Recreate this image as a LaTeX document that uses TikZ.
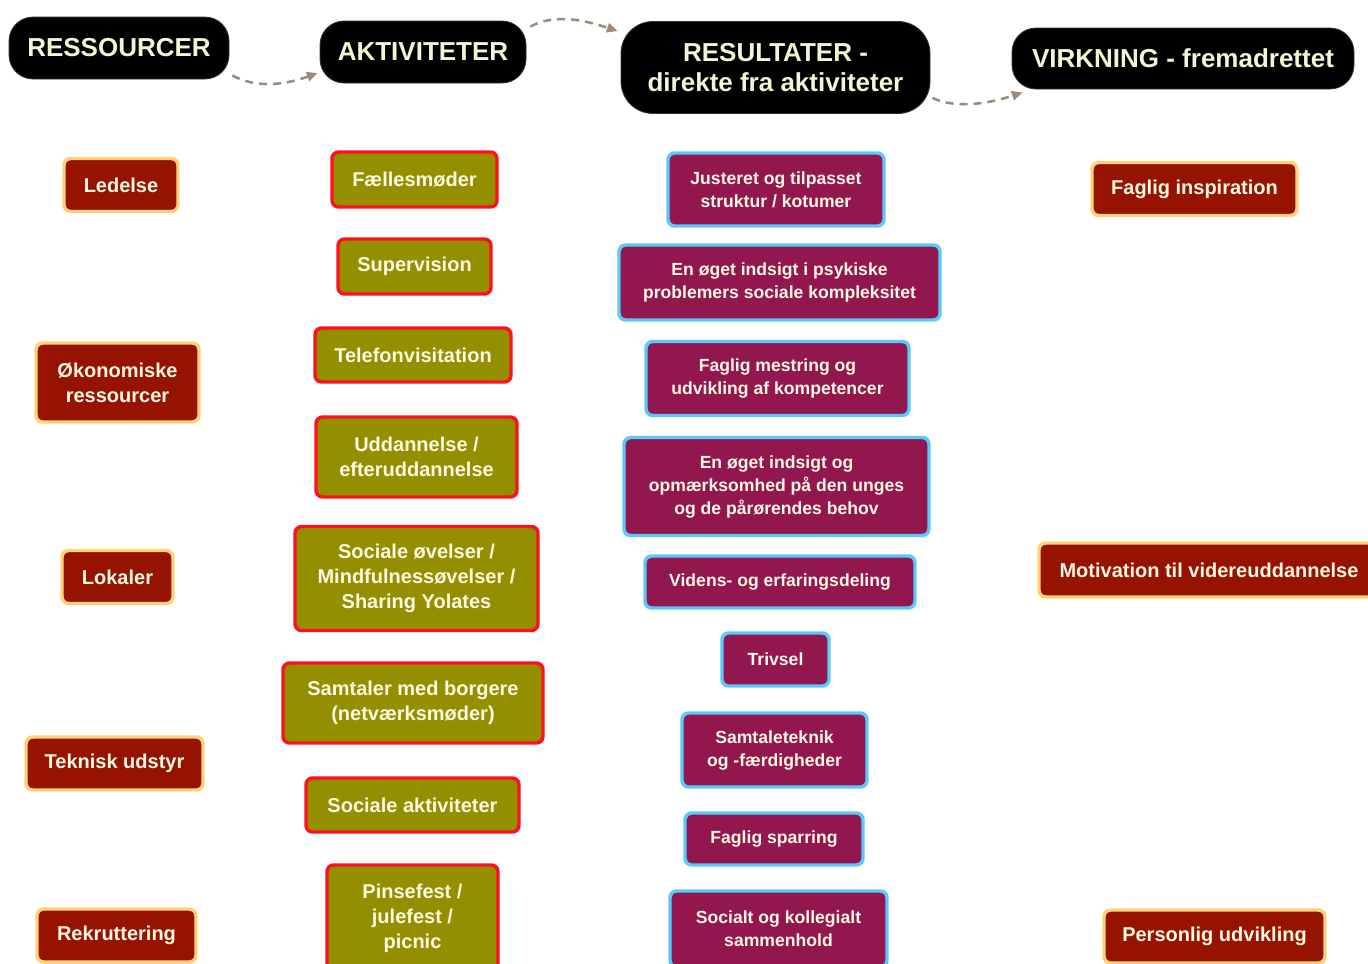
\documentclass[tikz,border=0pt]{standalone}
\usepackage{fontspec}
\setmainfont{Liberation Sans}
\usetikzlibrary{arrows.meta}
\definecolor{hdrtext}{HTML}{F2F7D2}
\definecolor{boxtext}{HTML}{FFF8E2}
\definecolor{resfill}{HTML}{951300}
\definecolor{resline}{HTML}{FFD27A}
\definecolor{actfill}{HTML}{948F00}
\definecolor{actline}{HTML}{FF1020}
\definecolor{outfill}{HTML}{93174F}
\definecolor{outline}{HTML}{5AC8FA}
\definecolor{flowcol}{HTML}{9C8B78}
\tikzset{
  dim/.style 2 args={minimum width=#1*0.75pt, minimum height=#2*0.75pt},
  hdr/.style={fill=black, draw=black!80, line width=0.6pt, rounded corners=18pt,
    text=hdrtext, inner sep=0pt, align=center,
    font=\fontsize{19.5}{22.5}\selectfont\bfseries},
  basebox/.style={rounded corners=5pt, line width=2.6pt, inner sep=0pt, align=center,
    text=boxtext},
  resbox/.style={basebox, fill=resfill, draw=resline,
    font=\fontsize{15}{18.75}\selectfont\bfseries},
  actbox/.style={basebox, fill=actfill, draw=actline,
    font=\fontsize{15}{18.75}\selectfont\bfseries},
  outbox/.style={basebox, fill=outfill, draw=outline,
    font=\fontsize{13.2}{17.25}\selectfont\bfseries},
  flow/.style={draw=flowcol, line width=1.9pt, dash pattern=on 6pt off 4.5pt,
    -{Triangle[length=8pt,width=7pt,fill=flowcol]}},
}
\begin{document}
\begin{tikzpicture}[x=0.75pt,y=-0.75pt]
\useasboundingbox (0,0) rectangle (1368,964);
% headers
\node[hdr, dim={220}{62}] (h1) at (119,48) {RESSOURCER};
\node[hdr, dim={206}{62}] (h2) at (423,52) {AKTIVITETER};
\node[hdr, dim={309}{92}, rounded corners=24pt] (h3) at (775.5,67.5) {RESULTATER -\\direkte fra aktiviteter};
\node[hdr, dim={342}{61}] (h4) at (1183,58.5) {VIRKNING - fremadrettet};
% flows
\draw[flow] ([shift={(3,-4)}]h1.south east) .. controls +(25,14) and +(-30,11) .. ([shift={(-2,21)}]h2.west);
\draw[flow] ([shift={(4,6)}]h2.north east) .. controls +(25,-14) and +(-30,-10) .. ([shift={(-3,10)}]h3.north west);
\draw[flow] ([shift={(2,-16)}]h3.south east) .. controls +(25,12) and +(-30,10) .. ([shift={(11,3)}]h4.south west);
% resources
\node[resbox, dim={114}{53}] (r1) at (121,185) {Ledelse};
\node[resbox, dim={163}{79}] (r2) at (117.5,382.5) {Økonomiske\\ressourcer};
\node[resbox, dim={111}{53}] (r3) at (117.5,577) {Lokaler};
\node[resbox, dim={177}{53}] (r4) at (114.5,763.5) {Teknisk udstyr};
\node[resbox, dim={159}{53}] (r5) at (116.5,935.5) {Rekruttering};
% impact
\node[resbox, dim={205}{53}] (v1) at (1194.5,189) {Faglig inspiration};
\node[resbox, dim={340}{54}] (v2) at (1209,570) {Motivation til videreuddannelse};
\node[resbox, dim={221}{53}] (v3) at (1214.5,936.5) {Personlig udvikling};
% activities
\node[actbox, dim={165}{55}] (a1) at (414.5,179.5) {Fællesmøder};
\node[actbox, dim={153}{55}] (a2) at (414.5,266.5) {Supervision};
\node[actbox, dim={196}{54}] (a3) at (413,355) {Telefonvisitation};
\node[actbox, dim={201}{80}] (a4) at (416.5,457) {Uddannelse /\\efteruddannelse};
\node[actbox, dim={243}{104}] (a5) at (416.5,578.5) {Sociale øvelser /\\Mindfulnessøvelser /\\Sharing Yolates};
\node[actbox, dim={260}{80}] (a6) at (413,703) {Samtaler med borgere\\(netværksmøder)};
\node[actbox, dim={213}{54}] (a7) at (412.5,805) {Sociale aktiviteter};
\node[actbox, dim={171}{106}] (a8) at (412.5,918) {Pinsefest /\\julefest /\\picnic};
% outputs
\node[outbox, dim={216}{73}] (p1) at (776,189.5) {Justeret og tilpasset\\struktur / kotumer};
\node[outbox, dim={321}{75}] (p2) at (779.5,282.5) {En øget indsigt i psykiske\\problemers sociale kompleksitet};
\node[outbox, dim={263}{74}] (p3) at (777.5,378.5) {Faglig mestring og\\udvikling af kompetencer};
\node[outbox, dim={305}{98}] (p4) at (776.5,486.5) {En øget indsigt og\\opmærksomhed på den unges\\og de pårørendes behov};
\node[outbox, dim={270}{52}] (p5) at (780,582) {Videns- og erfaringsdeling};
\node[outbox, dim={107}{53}] (p6) at (775.5,659.5) {Trivsel};
\node[outbox, dim={185}{74}] (p7) at (774.5,750) {Samtaleteknik\\og -færdigheder};
\node[outbox, dim={178}{52}] (p8) at (774,839) {Faglig sparring};
\node[outbox, dim={217}{76}] (p9) at (778.5,929) {Socialt og kollegialt\\sammenhold};
\end{tikzpicture}
\end{document}
